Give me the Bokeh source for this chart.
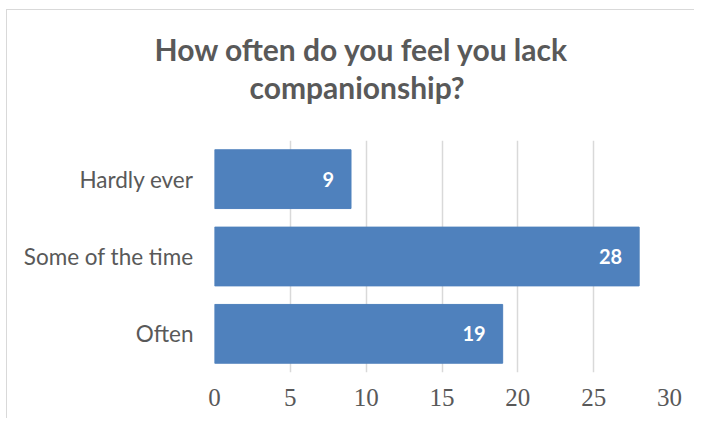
from bokeh.plotting import figure
from bokeh.models import (Title, FactorRange, Range1d, ColumnDataSource, LabelSet,
                          FixedTicker)
from bokeh.core.properties import value
from bokeh.embed import file_html
from bokeh.resources import INLINE

categories = ["Often", "Some of the time", "Hardly ever"]
values = [19, 28, 9]
x_ticks = [0, 5, 10, 15, 20, 25, 30]
title_lines = ["How often do you feel you lack", "companionship?"]

src = ColumnDataSource(dict(cat=categories, val=values, lab=[str(v) for v in values]))

p = figure(width=688, height=409, output_backend="svg", toolbar_location=None,
           y_range=FactorRange(*categories), x_range=Range1d(0, 30),
           min_border_left=207, min_border_right=26, min_border_top=130,
           min_border_bottom=47, title=None)
p.outline_line_color = None
# chart-area border: only the top and left edges are inside the window
p.styles = {"margin-left": "6px", "margin-top": "9px",
            "border-left": "1px solid #d9d9d9", "border-top": "1px solid #d9d9d9"}

p.hbar(y="cat", right="val", height=0.76, source=src, color="#4F81BD")

labels = LabelSet(x="val", y="cat", text="lab", source=src, x_offset=-17,
                  text_align="right", text_baseline="middle", text_color="white",
                  text_font=value("Lato"), text_font_style="bold",
                  text_font_size="20px")
p.add_layout(labels)

# title: spacer closest to the frame, then line 2, then line 1 on top
spacer = Title(text=" ", text_font_size="1px", standoff=33)
t2 = Title(text=title_lines[1], align="left", offset=35, standoff=0,
           text_font="Lato", text_font_style="bold", text_font_size="30px",
           text_color="#595959")
t1 = Title(text=title_lines[0], align="left", offset=-60, standoff=0,
           text_font="Lato", text_font_style="bold", text_font_size="30px",
           text_color="#595959")
p.add_layout(spacer, "above")
p.add_layout(t2, "above")
p.add_layout(t1, "above")

p.xaxis.ticker = FixedTicker(ticks=x_ticks)
p.xaxis.axis_line_color = None
p.xaxis.major_tick_line_color = None
p.xaxis.minor_tick_line_color = None
p.xaxis.major_tick_out = 0
p.xaxis.major_label_standoff = 16
p.xaxis.major_label_text_font = "Liberation Serif"
p.xaxis.major_label_text_font_size = "25px"
p.xaxis.major_label_text_color = "#595959"

p.yaxis.axis_line_color = None
p.yaxis.major_tick_line_color = None
p.yaxis.major_tick_out = 0
p.yaxis.major_label_standoff = 21
p.yaxis.major_label_text_font = "Lato"
p.yaxis.major_label_text_font_size = "22.5px"
p.yaxis.major_label_text_color = "#595959"

p.xgrid.grid_line_color = "#d9d9d9"
p.xgrid.grid_line_width = 1.5
p.ygrid.grid_line_color = None

open("out.html", "w").write(file_html(p, INLINE))
